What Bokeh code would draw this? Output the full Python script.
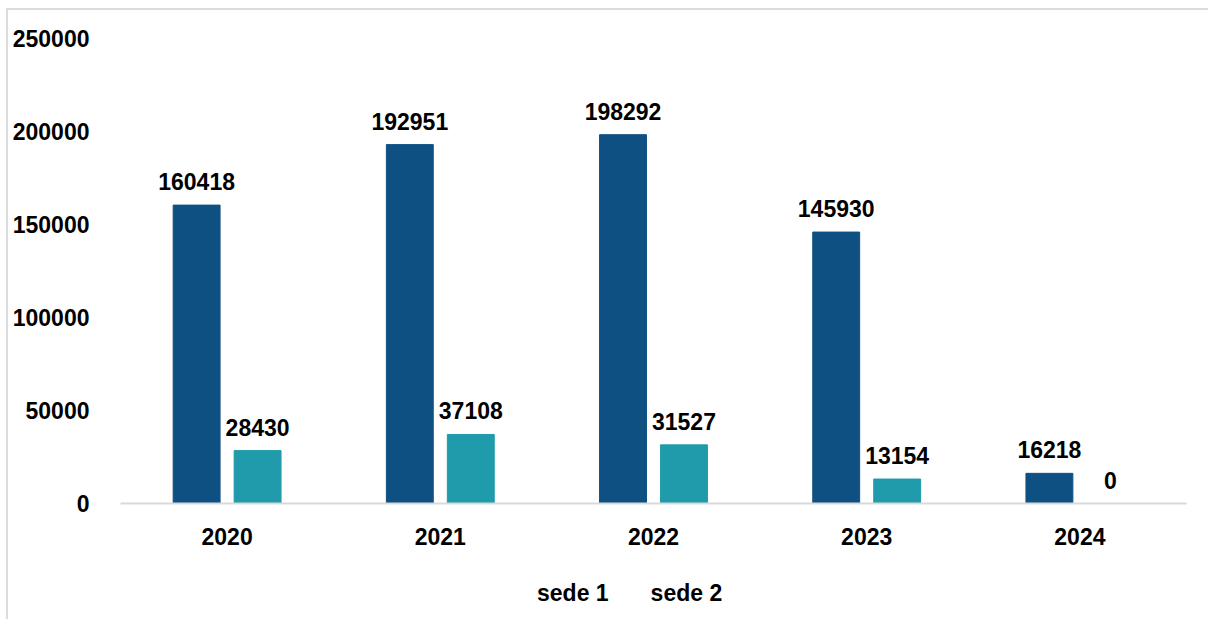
from bokeh.plotting import figure
from bokeh.layouts import column
from bokeh.models import ColumnDataSource, FixedTicker, Range1d, LabelSet, Legend, LegendItem, NumeralTickFormatter
from bokeh.core.properties import value
from bokeh.transform import dodge
from bokeh.embed import file_html
from bokeh.resources import INLINE

years = ["2020", "2021", "2022", "2023", "2024"]
sede1 = [160418, 192951, 198292, 145930, 16218]
sede2 = [28430, 37108, 31527, 13154, 0]
series_names = ["sede 1", "sede 2"]
y_ticks = [0, 50000, 100000, 150000, 200000, 250000]

FONT = "Liberation Sans"
FS = "23px"
C1 = "#0F5082"
C2 = "#1F9BAB"

src = ColumnDataSource(dict(year=years, s1=sede1, s2=sede2,
                            l1=[str(v) for v in sede1], l2=[str(v) for v in sede2]))

p = figure(x_range=years, y_range=Range1d(0, 250000), frame_width=1066, frame_height=465,
           output_backend="svg", toolbar_location=None,
           min_border_left=112, min_border_right=22, min_border_top=28, min_border_bottom=62)

r1 = p.vbar(x=dodge("year", -0.143, range=p.x_range), top="s1", width=0.22, source=src,
            fill_color=C1, line_color=C1)
r2 = p.vbar(x=dodge("year", 0.143, range=p.x_range), top="s2", width=0.22, source=src,
            fill_color=C2, line_color=C2)

for col, lab, off in (("s1", "l1", -0.143), ("s2", "l2", 0.143)):
    ls = LabelSet(x=dodge("year", off, range=p.x_range), y=col, text=lab, source=src,
                  text_align="center", text_baseline="bottom", y_offset=15,
                  text_font=value(FONT), text_font_style="bold", text_font_size=FS,
                  text_color="#000000")
    p.add_layout(ls)

p.xgrid.visible = False
p.ygrid.visible = False
p.outline_line_color = None

p.yaxis.ticker = FixedTicker(ticks=y_ticks)
p.yaxis.formatter = NumeralTickFormatter(format="0")
p.yaxis.axis_line_color = None
p.yaxis.major_tick_line_color = None
p.yaxis.minor_tick_line_color = None
p.yaxis.major_label_standoff = 25
p.yaxis.major_label_text_font = FONT
p.yaxis.major_label_text_font_style = "bold"
p.yaxis.major_label_text_font_size = FS
p.yaxis.major_label_text_color = "#000000"

p.xaxis.axis_line_color = "#d9d9d9"
p.xaxis.axis_line_width = 2
p.xaxis.major_tick_line_color = None
p.xaxis.minor_tick_line_color = None
p.xaxis.major_label_standoff = 18
p.xaxis.major_label_text_font = FONT
p.xaxis.major_label_text_font_style = "bold"
p.xaxis.major_label_text_font_size = FS
p.xaxis.major_label_text_color = "#000000"

# legend strip: a second figure with empty glyph renderers, used only for the legend
p2 = figure(x_range=years, y_range=Range1d(0, 1), width=1200, height=54,
            output_backend="svg", toolbar_location=None,
            x_axis_location=None, y_axis_location=None,
            min_border_left=0, min_border_right=0, min_border_top=0, min_border_bottom=0)
p2.xgrid.visible = False
p2.ygrid.visible = False
p2.outline_line_color = None
empty = ColumnDataSource(dict(x=[], top=[]))
q1 = p2.vbar(x="x", top="top", width=0.22, source=empty, fill_color=C1, line_color=C1)
q2 = p2.vbar(x="x", top="top", width=0.22, source=empty, fill_color=C2, line_color=C2)

legend = Legend(items=[LegendItem(label=series_names[0], renderers=[q1]),
                       LegendItem(label=series_names[1], renderers=[q2])],
                orientation="horizontal", location=(397, 12),
                label_text_font=FONT, label_text_font_style="bold", label_text_font_size=FS,
                label_text_color="#000000", glyph_width=14, glyph_height=14,
                spacing=22, label_standoff=6, border_line_color=None,
                background_fill_alpha=0, padding=4, margin=0)
p2.add_layout(legend, "center")

layout = column(p, p2, spacing=0,
                styles={"border-top": "2px solid #dcdcdc", "border-left": "2px solid #dcdcdc",
                        "margin-left": "6px", "margin-top": "8px"})

open("out.html", "w").write(file_html(layout, INLINE))
